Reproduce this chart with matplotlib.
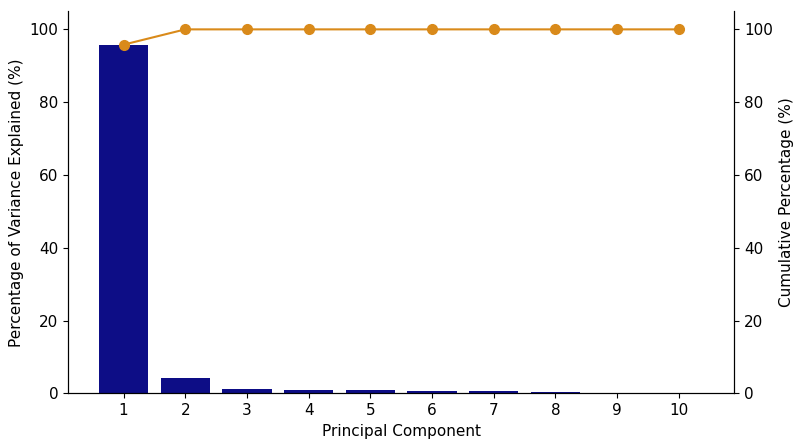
import matplotlib
matplotlib.use("Agg")
import matplotlib.pyplot as plt

components = [1, 2, 3, 4, 5, 6, 7, 8, 9, 10]
variance = [95.8, 4.2, 1.3, 1.0, 0.8, 0.7, 0.55, 0.3, 0.15, 0.05]
cumulative = [95.8, 100, 100, 100, 100, 100, 100, 100, 100, 100]

plt.rcParams['font.size'] = 11
fig, ax = plt.subplots(figsize=(8, 4.47), dpi=100)
ax.bar(components, variance, color='#000080', alpha=0.95, width=0.8)
ax.set_xlabel('Principal Component')
ax.set_ylabel('Percentage of Variance Explained (%)')
ax.set_xticks(components)
ax.set_ylim(0, 105)
ax.set_xlim(0.1, 10.9)
ax2 = ax.twinx()
ax2.plot(components, cumulative, color='#d98a1a', marker='o', markersize=7)
ax2.set_ylabel('Cumulative Percentage (%)')
ax2.set_ylim(0, 105)
for a in (ax, ax2):
    a.spines['top'].set_visible(False)
fig.subplots_adjust(left=0.085, right=0.918, top=0.975, bottom=0.12)
fig.savefig('out.png')
